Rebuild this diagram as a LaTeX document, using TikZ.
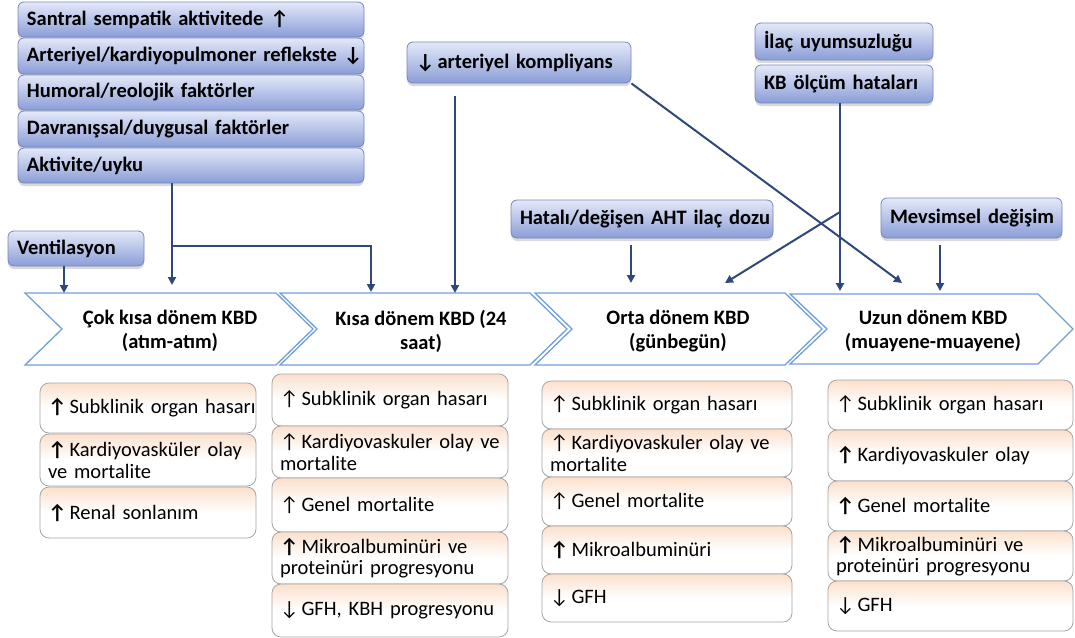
\documentclass[tikz,border=0pt]{standalone}
\usepackage{fontspec}
\setmainfont{Carlito}
\usetikzlibrary{arrows.meta,shadows}
\definecolor{connc}{RGB}{47,72,122}
\definecolor{tboxtop}{RGB}{228,233,248}
\definecolor{tboxbot}{RGB}{138,157,215}
\definecolor{tboxline}{RGB}{118,134,188}
\definecolor{peach}{RGB}{251,224,204}
\definecolor{bline}{RGB}{165,165,165}
\definecolor{chevc}{RGB}{112,160,218}
\newcommand\ua{↑\hspace{3pt}}
\newcommand\da{↓\hspace{3pt}}
\newcommand\bua{\textbf{↑}\hspace{3pt}}
\newcommand\ml[1]{\mbox{#1}}
\begin{document}
\begin{tikzpicture}[x=1pt,y=-1pt,
  topbox/.style={draw=tboxline, line width=0.8pt, rounded corners=6pt,
    top color=tboxtop, bottom color=tboxbot,
    font={\bfseries\fontsize{20.5}{24}\selectfont\spaceskip=5pt\relax}, align=left,
    inner xsep=9pt, inner ysep=0pt,
    drop shadow={shadow xshift=0pt,shadow yshift=-3pt,opacity=0.3}},
  resbox/.style={draw=bline, line width=0.8pt, rounded corners=9pt,
    top color=peach, bottom color=white, middle color=white,
    font={\fontsize{20.5}{21.5}\selectfont\spaceskip=4.6pt\relax}, align=left,
    inner xsep=8pt, inner ysep=0pt},
  col1/.style={resbox, text width=200pt},
  col2/.style={resbox, text width=220pt},
  col3/.style={resbox, text width=234pt},
  col4/.style={resbox, text width=229pt},
  chevron/.style={draw=chevc, line width=1.3pt, fill=white},
  chevtext/.style={font=\bfseries\fontsize{20.5}{24}\selectfont, align=center},
  conn/.style={draw=connc, line width=2pt, -{Triangle[length=8pt,width=8pt]}}
]
\useasboundingbox (0,0) rectangle (1075,637);

% chevrons
\draw[chevron] (25,293)--(276,293)--(313,329)--(276,365)--(25,365)--(62,329)--cycle;
\draw[chevron] (280,293)--(530,293)--(567,329)--(530,365)--(280,365)--(317,329)--cycle;
\draw[chevron] (535,293)--(785,293)--(822,329)--(785,365)--(535,365)--(572,329)--cycle;
\draw[chevron] (790,294)--(1038,294)--(1073,329)--(1038,364)--(790,364)--(827,329)--cycle;
\node[chevtext] (ct1) at (170,331) {Çok kısa dönem KBD\\(atım-atım)};
\node[chevtext] (ct2) at (421,331) {Kısa dönem KBD (24\\saat)};
\node[chevtext] (ct3) at (678,331) {Orta dönem KBD\\(günbegün)};
\node[chevtext] (ct4) at (933,331) {Uzun dönem KBD\\(muayene-muayene)};

% result boxes column 1
\node[col1, minimum height=50pt] (r11) at (148,408) {\ml{\bua Subklinik organ hasarı}};
\node[col1, minimum height=52pt] (r12) at (148,460) {\ml{\bua Kardiyovasküler olay}\\\ml{ve mortalite}};
\node[col1, minimum height=51pt] (r13) at (148,512.5) {\ml{\bua Renal sonlanım}};
% column 2
\node[col2, minimum height=52pt] (r21) at (390,400) {\ml{\ua Subklinik organ hasarı}};
\node[col2, minimum height=52pt] (r22) at (390,452) {\ml{\ua Kardiyovaskuler olay ve}\\\ml{mortalite}};
\node[col2, minimum height=54pt] (r23) at (390,505) {\ml{\ua Genel mortalite}};
\node[col2, minimum height=52pt] (r24) at (390,558) {\ml{\bua Mikroalbuminüri ve}\\\ml{proteinüri progresyonu}};
\node[col2, minimum height=53pt] (r25) at (390,610.5) {\ml{\da GFH, KBH progresyonu}};
% column 3
\node[col3, minimum height=48pt] (r31) at (667,405) {\ml{\ua Subklinik organ hasarı}};
\node[col3, minimum height=48pt] (r32) at (667,453) {\ml{\ua Kardiyovaskuler olay ve}\\\ml{mortalite}};
\node[col3, minimum height=49pt] (r33) at (667,501.5) {\ml{\ua Genel mortalite}};
\node[col3, minimum height=48pt] (r34) at (667,550) {\ml{\bua Mikroalbuminüri}};
\node[col3, minimum height=48pt] (r35) at (667,598) {\ml{\da GFH}};
% column 4
\node[col4, minimum height=50pt] (r41) at (950.5,405) {\ml{\ua Subklinik organ hasarı}};
\node[col4, minimum height=51pt] (r42) at (950.5,455.5) {\ml{\bua Kardiyovaskuler olay}};
\node[col4, minimum height=50pt] (r43) at (950.5,506) {\ml{\bua Genel mortalite}};
\node[col4, minimum height=50pt] (r44) at (950.5,556) {\ml{\bua Mikroalbuminüri ve}\\\ml{proteinüri progresyonu}};
\node[col4, minimum height=50pt] (r45) at (950.5,606) {\ml{\da GFH}};

% top factor boxes
\node[topbox, text width=328pt, minimum height=35pt] (s1) at (191,19.5) {\ml{Santral sempatik aktivitede ↑}};
\node[topbox, text width=328pt, minimum height=36pt] (s2) at (191,56) {\ml{Arteriyel/kardiyopulmoner reflekste ↓}};
\node[topbox, text width=328pt, minimum height=35pt] (s3) at (191,92.5) {\ml{Humoral/reolojik faktörler}};
\node[topbox, text width=328pt, minimum height=36pt] (s4) at (191,129) {\ml{Davranışsal/duygusal faktörler}};
\node[topbox, text width=328pt, minimum height=35pt] (s5) at (191,165.5) {\ml{Aktivite/uyku}};
\node[topbox, text width=118pt, minimum height=35pt] (vent) at (76,248.5) {\ml{Ventilasyon}};
\node[topbox, text width=206pt, minimum height=41pt] (art) at (519,62.5) {\ml{↓\hspace{3pt}arteriyel kompliyans}};
\node[topbox, text width=160pt, minimum height=37pt] (ilac) at (844,41.5) {\ml{İlaç uyumsuzluğu}};
\node[topbox, text width=160pt, minimum height=38pt] (kb) at (844,84) {\ml{KB ölçüm hataları}};
\node[topbox, text width=244pt, minimum height=38pt] (hat) at (642,219) {\ml{Hatalı/değişen AHT ilaç dozu}};
\node[topbox, text width=163pt, minimum height=40pt] (mev) at (971.5,218) {\ml{Mevsimsel değişim}};

% connector coordinates
\coordinate (e1) at (64,293);
\coordinate (e2) at (172,285);
\coordinate (j1) at (172,246);
\coordinate (e3) at (371,292);
\coordinate (a0) at (455,96);
\coordinate (e4) at (455,293);
\coordinate (e5) at (902,283);
\coordinate (e6) at (840,291);
\coordinate (j2) at (840,212);
\coordinate (e7) at (725,283);
\coordinate (s8) at (631,245);
\coordinate (e8) at (631,283);
\coordinate (s9) at (940,245);
\coordinate (e9) at (940,291);

% connectors
\draw[conn] (vent.south -| e1) -- (e1);
\draw[conn] (s5.south -| e2) -- (e2);
\draw[conn] (j1) -| (e3);
\draw[conn] (a0) -- (e4);
\draw[conn] (art.south east) -- (e5);
\draw[conn] (kb.south -| e6) -- (e6);
\draw[conn] (j2) -- (e7);
\draw[conn] (s8) -- (e8);
\draw[conn] (s9) -- (e9);
\end{tikzpicture}
\end{document}
